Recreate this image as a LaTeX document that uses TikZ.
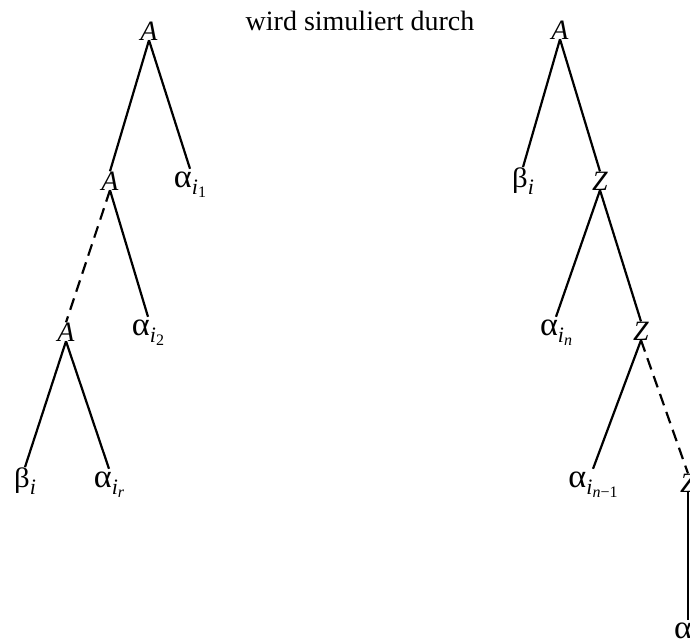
\documentclass[tikz,border=0pt]{standalone}
\usepackage{fontspec}
\setmainfont{Liberation Serif}
% Greek letters a little wider, as in the Symbol face
\newcommand\alp{\scalebox{1.22}[1.18]{α}}
\newcommand\bet{\scalebox{1.1}[1]{β}}
% first and second level subscripts, set as lowered smaller text
\newcommand\lsub[1]{\raisebox{-0.25em}{\fontsize{22}{22}\selectfont #1}}
\newcommand\llsub[1]{\raisebox{-0.18em}{\fontsize{16}{16}\selectfont #1}}
\begin{document}
\begin{tikzpicture}[x=1pt,y=-1pt,
  every node/.style={inner sep=0pt, anchor=base, font=\fontsize{28}{32}\selectfont},
  leaf/.style={text height=18pt},
  edge/.style={line width=2.2pt},
  dashededge/.style={edge, dash pattern=on 12pt off 7pt}]
\path[use as bounding box] (0,0) rectangle (690,643);
\clip (0,0) rectangle (690,643);

\node (title) at (360,30) {wird simuliert durch};

% left tree
\node (A1) at (149,40) {\textit{A}};
\node (A2) at (110,190) {\textit{A}};
\node[leaf] (a1) at (190,187) {\alp\lsub{\textit{i}\llsub{1}}};
\node (A3) at (66,341) {\textit{A}};
\node[leaf] (a2) at (148,335) {\alp\lsub{\textit{i}\llsub{2}}};
\node (b1) at (25,487) {\bet\lsub{\textit{i}}};
\node[leaf] (ar) at (109,487) {\alp\lsub{\textit{i}\llsub{\textit{r}}}};

\draw[edge] (A1.south) -- (A2.north);
\draw[edge] (A1.south) -- (a1.north);
\draw[dashededge] (A2.south) -- (A3.north);
\draw[edge] (A2.south) -- (a2.north);
\draw[edge] (A3.south) -- (b1.north);
\draw[edge] (A3.south) -- (ar.north);

% right tree
\node (A4) at (560,39) {\textit{A}};
\node (b2) at (523,187) {\bet\lsub{\textit{i}}};
\node (Z1) at (600,190) {\textit{Z}};
\node[leaf] (an) at (556,335) {\alp\lsub{\textit{i}\llsub{\textit{n}}}};
\node (Z2) at (641,340) {\textit{Z}};
\node[leaf] (an1) at (593,487) {\alp\lsub{\textit{i}\llsub{\textit{n}−1}}};
\node (Z3) at (688,492) {\textit{Z}};
\node[leaf] (aL) at (683,638) {\alp};

\draw[edge] (A4.south) -- (b2.north);
\draw[edge] (A4.south) -- (Z1.north);
\draw[edge] (Z1.south) -- (an.north);
\draw[edge] (Z1.south) -- (Z2.north);
\draw[edge] (Z2.south) -- (an1.north);
\draw[dashededge] (Z2.south) -- (Z3.north);
\draw[edge] (Z3.south) -- (Z3.south |- aL.north);
\end{tikzpicture}
\end{document}
